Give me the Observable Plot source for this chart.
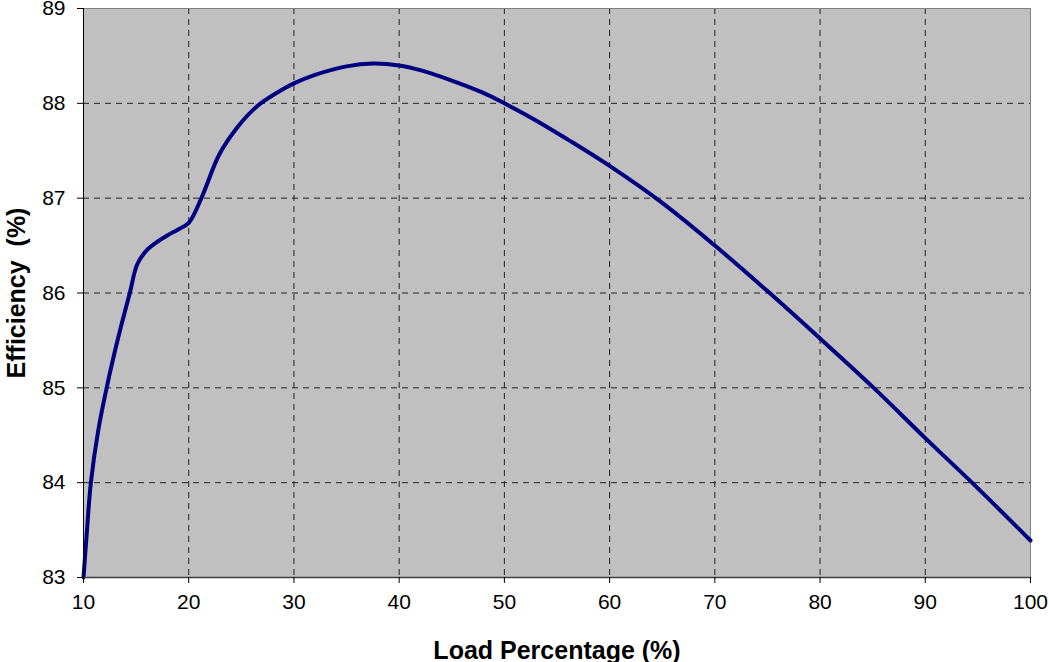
<!DOCTYPE html>
<html>
<head>
<meta charset="utf-8">
<script src="https://cdn.jsdelivr.net/npm/d3@7"></script>
<script src="https://cdn.jsdelivr.net/npm/@observablehq/plot@0.6"></script>
<style>
  html, body { margin: 0; padding: 0; background: #fff; }
</style>
</head>
<body>
<div id="chart"></div>
<script>
const loads = [10, 10.3, 10.7, 11.4, 12.2, 13.3, 14.4, 15.1, 16, 17, 18, 19, 20, 21.2, 22.9, 24.5, 26.5, 28.5, 30, 32, 35, 37.5, 40, 42, 45, 48, 50, 53, 56, 60, 65, 70, 75, 80, 85, 90, 95, 100];
const efficiency = [83.0, 83.45, 84.0, 84.55, 85.0, 85.53, 86.0, 86.3, 86.45, 86.54, 86.61, 86.67, 86.74, 87.0, 87.46, 87.73, 87.97, 88.12, 88.21, 88.3, 88.39, 88.42, 88.4, 88.35, 88.24, 88.11, 88.0, 87.82, 87.62, 87.34, 86.95, 86.5, 86.02, 85.52, 85.01, 84.47, 83.94, 83.39];
const xTicks = [10, 20, 30, 40, 50, 60, 70, 80, 90, 100];
const yTicks = [83, 84, 85, 86, 87, 88, 89];
const xLabel = "Load Percentage (%)";
const yLabel = "Efficiency  (%)";

const data = loads.map((x, i) => ({x, y: efficiency[i]}));

const chart = Plot.plot({
  width: 1049,
  height: 662,
  marginLeft: 83,
  marginRight: 19,
  marginTop: 8,
  marginBottom: 85,
  style: {fontFamily: "'Liberation Sans', Arial, sans-serif", fontSize: "21px", background: "#fff", color: "#000", overflow: "visible"},
  x: {domain: [10, 100]},
  y: {domain: [83, 89]},
  marks: [
    Plot.frame({fill: "#C0C0C0", stroke: null}),
    Plot.gridX(xTicks.slice(1, -1), {stroke: "#222", strokeOpacity: 1, strokeDasharray: "6,5", strokeWidth: 1}),
    Plot.gridY(yTicks.slice(1, -1), {stroke: "#222", strokeOpacity: 1, strokeDasharray: "6,5", strokeWidth: 1}),
    Plot.frame({stroke: "#808080", strokeWidth: 1}),
    Plot.line(data, {x: "x", y: "y", stroke: "#000080", strokeWidth: 4, curve: "catmull-rom"}),
    Plot.ruleX([10], {stroke: "#000", strokeWidth: 1}),
    Plot.ruleY([83], {stroke: "#404040", strokeWidth: 1.5}),
    Plot.axisX(xTicks, {tickSize: 6, tickPadding: 11, label: null, fontSize: 21, tickFormat: "d", stroke: "#000"}),
    Plot.axisY(yTicks, {tickSize: 6, tickPadding: 12, label: null, fontSize: 21, tickFormat: "d", stroke: "#000"}),
    Plot.text([xLabel], {frameAnchor: "bottom", dy: 73, lineAnchor: "middle", textAnchor: "middle", fontSize: 25, fontWeight: "bold", fill: "#000"}),
    Plot.text([yLabel], {frameAnchor: "left", dx: -67, rotate: -90, lineAnchor: "middle", textAnchor: "middle", fontSize: 25, fontWeight: "bold", fill: "#000"})
  ]
});
document.getElementById("chart").appendChild(chart);
</script>
</body>
</html>
